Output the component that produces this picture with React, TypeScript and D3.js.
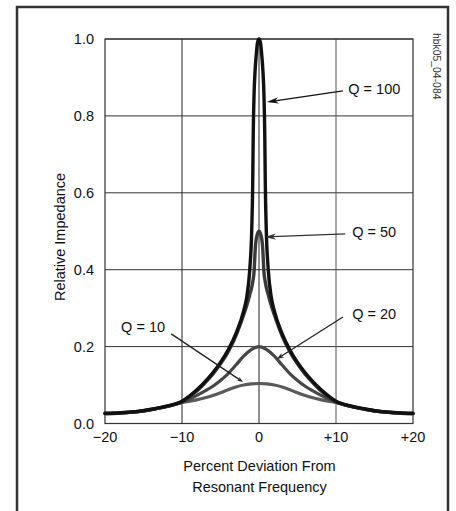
import React from "react";
import * as d3 from "d3";

// Percent deviation (positive half; curves are symmetric) and relative impedance
const Q100_X = [0, 0.2, 0.35, 0.5, 0.65, 0.75, 0.82, 0.95, 1.2, 1.6, 2, 3, 4, 5, 6, 7, 8, 9, 10, 12, 14, 16, 18, 20];
const Q100_Y = [1.0, 0.99, 0.96, 0.92, 0.85, 0.75, 0.62, 0.5, 0.4, 0.328, 0.292, 0.234, 0.192, 0.159, 0.132, 0.109, 0.089, 0.072, 0.058, 0.045, 0.037, 0.031, 0.028, 0.0265];

const Q50_X = [0, 0.25, 0.45, 0.55, 0.62, 0.8, 1.2, 1.6, 2, 3, 4, 5, 6, 7, 8, 9, 10, 12, 14, 16, 18, 20];
const Q50_Y = [0.5, 0.49, 0.465, 0.43, 0.4, 0.37, 0.335, 0.306, 0.282, 0.228, 0.187, 0.155, 0.128, 0.106, 0.086, 0.07, 0.0565, 0.0445, 0.0365, 0.0305, 0.0275, 0.026];

const Q20_X = [0, 1, 2, 3, 4, 5, 6, 7, 8, 9, 10, 12, 14, 16, 18, 20];
const Q20_Y = [0.2, 0.192, 0.175, 0.152, 0.13, 0.112, 0.097, 0.085, 0.074, 0.064, 0.0555, 0.0443, 0.0362, 0.0302, 0.0272, 0.0258];

const Q10_X = [0, 1, 2, 3, 4, 5, 6, 7, 8, 9, 10, 12, 14, 16, 18, 20];
const Q10_Y = [0.104, 0.103, 0.1, 0.095, 0.088, 0.08, 0.073, 0.067, 0.062, 0.058, 0.0545, 0.044, 0.036, 0.030, 0.027, 0.0256];

const X_TICKS = [-20, -10, 0, 10, 20];
const X_TICK_LABELS = ["\u221220", "\u221210", "0", "+10", "+20"];
const Y_TICKS = [0, 0.2, 0.4, 0.6, 0.8, 1.0];
const Y_TICK_LABELS = ["0.0", "0.2", "0.4", "0.6", "0.8", "1.0"];

// Annotation labels: text, label anchor (data), arrow tail, arrow tip
const ANN_TEXT = ["Q = 100", "Q = 50", "Q = 20", "Q = 10"];
const ANN_LABEL = [[11.6, 0.87], [12.1, 0.498], [12.1, 0.285], [-12.2, 0.251]];
const ANN_TAIL = [[10.9, 0.865], [11.2, 0.493], [10.9, 0.277], [-11.4, 0.233]];
const ANN_TIP = [[1.0, 0.836], [0.78, 0.485], [2.34, 0.168], [-2.08, 0.108]];

const FONT = "'Liberation Sans', Arial, Helvetica, sans-serif";
const FS = 14.5;

function mirror(xs: number[], ys: number[]): [number, number][] {
  const pts: [number, number][] = [];
  for (let i = xs.length - 1; i >= 1; i--) pts.push([-xs[i], ys[i]]);
  for (let i = 0; i < xs.length; i++) pts.push([xs[i], ys[i]]);
  return pts;
}

export default function App() {
  const W = 456, H = 511;
  const x = d3.scaleLinear().domain([-20, 20]).range([105, 413]);
  const y = d3.scaleLinear().domain([0, 1]).range([423.5, 39]);
  const line = d3
    .line<[number, number]>()
    .x((d) => x(d[0]))
    .y((d) => y(d[1]))
    .curve(d3.curveMonotoneX);

  const series = [
    { pts: mirror(Q10_X, Q10_Y), color: "#5a5a5a", w: 3.2 },
    { pts: mirror(Q20_X, Q20_Y), color: "#474747", w: 3.2 },
    { pts: mirror(Q50_X, Q50_Y), color: "#3a3a3a", w: 3.4 },
    { pts: mirror(Q100_X, Q100_Y), color: "#111", w: 3.4 },
  ];

  const arrowColors = ["#111", "#333", "#222", "#222"];
  const headSize = [[12, 3.2], [11, 3.2], [7, 2.5], [6, 2.2]];

  return (
    <svg
      width={W}
      height={H}
      style={{ position: "absolute", left: 0, top: 0, background: "#fff" }}
      fontFamily={FONT}
    >
      <rect x={0} y={0} width={W} height={H} fill="#fff" />
      {/* outer frame */}
      <rect x={17} y={7} width={431} height={520} fill="none" stroke="#333" strokeWidth={2.5} />

      {/* grid */}
      {Y_TICKS.slice(1).map((t) => (
        <line key={"gy" + t} x1={x(-20)} x2={x(20)} y1={y(t)} y2={y(t)} stroke="#333" strokeWidth={1} />
      ))}
      {X_TICKS.slice(1, -1).map((t) => (
        <line key={"gx" + t} x1={x(t)} x2={x(t)} y1={y(0)} y2={y(1)} stroke={t === 10 ? "#555" : "#222"} strokeWidth={1} />
      ))}
      <rect x={x(-20)} y={y(1)} width={x(20) - x(-20)} height={y(0) - y(1)} fill="none" stroke="#333" strokeWidth={1.2} />

      {/* y tick labels */}
      {Y_TICKS.map((t, i) => (
        <text key={"yl" + t} x={94} y={y(t)} dy="0.35em" textAnchor="end" fontSize={FS} fill="#111">
          {Y_TICK_LABELS[i]}
        </text>
      ))}
      {/* x tick labels */}
      {X_TICKS.map((t, i) => (
        <text key={"xl" + t} x={x(t)} y={437} dy="0.35em" textAnchor="middle" fontSize={FS} fill="#111">
          {X_TICK_LABELS[i]}
        </text>
      ))}

      {/* axis titles */}
      <text x={259.5} y={466} dy="0.35em" textAnchor="middle" fontSize={FS} fill="#111">
        Percent Deviation From
      </text>
      <text x={259.5} y={487} dy="0.35em" textAnchor="middle" fontSize={FS} fill="#111">
        Resonant Frequency
      </text>
      <text transform={`translate(60,237) rotate(-90)`} dy="0.35em" textAnchor="middle" fontSize={FS} fill="#111">
        Relative Impedance
      </text>
      <text transform={`translate(437,33) rotate(90)`} dy="0.35em" textAnchor="start" fontSize={10.4} fill="#333">
        hbk05_04-084
      </text>

      {/* curves */}
      {series.map((s, i) => (
        <path key={"s" + i} d={line(s.pts) || ""} fill="none" stroke={s.color} strokeWidth={s.w} strokeLinejoin="round" strokeLinecap="round" />
      ))}

      {/* annotations */}
      {ANN_TEXT.map((txt, i) => {
        const tx = x(ANN_TAIL[i][0]), ty = y(ANN_TAIL[i][1]);
        const hx = x(ANN_TIP[i][0]), hy = y(ANN_TIP[i][1]);
        const ang = Math.atan2(hy - ty, hx - tx);
        const [len, half] = headSize[i];
        const bx = hx - len * Math.cos(ang), by = hy - len * Math.sin(ang);
        const px = -Math.sin(ang) * half, py = Math.cos(ang) * half;
        const ix = hx - len * 0.7 * Math.cos(ang), iy = hy - len * 0.7 * Math.sin(ang);
        const head = `M${hx},${hy} L${bx + px},${by + py} L${ix},${iy} L${bx - px},${by - py} Z`;
        return (
          <g key={"a" + i}>
            <line x1={tx} y1={ty} x2={ix} y2={iy} stroke={arrowColors[i]} strokeWidth={1.3} />
            <path d={head} fill={arrowColors[i]} />
            <text
              x={x(ANN_LABEL[i][0])}
              y={y(ANN_LABEL[i][1])}
              dy="0.35em"
              textAnchor={ANN_LABEL[i][0] < 0 ? "end" : "start"}
              fontSize={FS}
              fill="#111"
            >
              {txt}
            </text>
          </g>
        );
      })}
    </svg>
  );
}
